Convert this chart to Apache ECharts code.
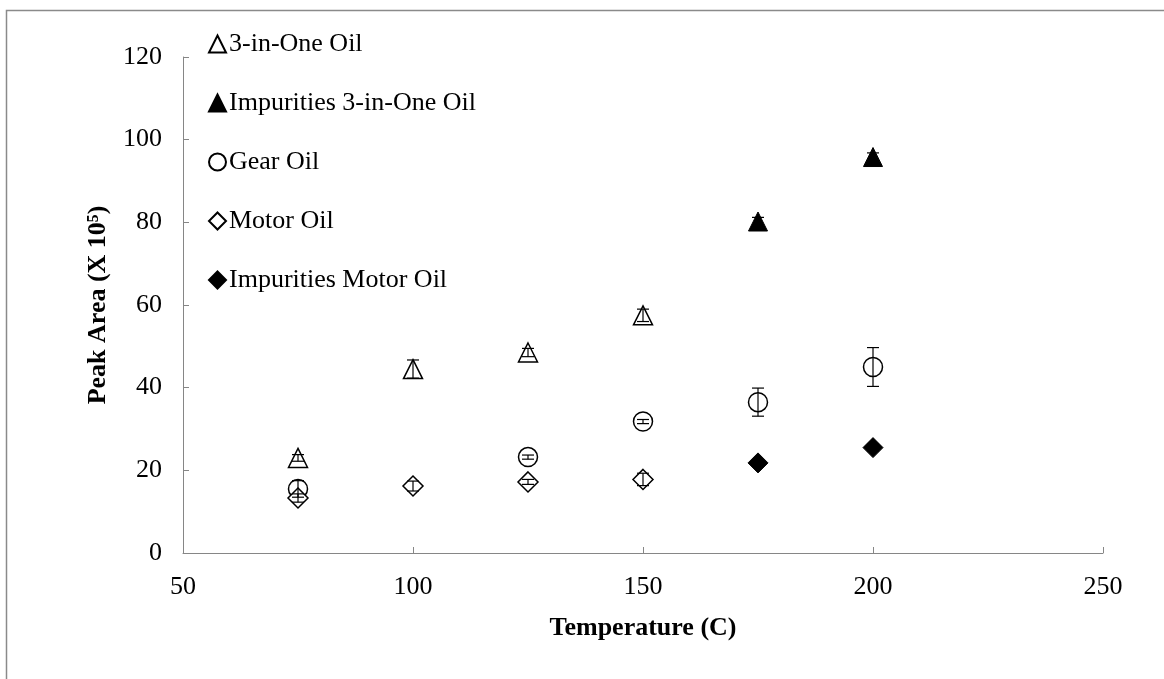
<!DOCTYPE html>
<html>
<head>
<meta charset="utf-8">
<script src="https://cdn.jsdelivr.net/npm/echarts@6/dist/echarts.min.js"></script>
<style>
html,body{margin:0;padding:0;background:#fff;}
#chart{width:1164px;height:679px;}
</style>
</head>
<body>
<div id="chart"></div>
<script>
// ---- data ----
const seriesNames = ['3-in-One Oil', 'Impurities 3-in-One Oil', 'Gear Oil', 'Motor Oil', 'Impurities Motor Oil'];
const oilX = [75, 100, 125, 150];
const oilY = [23, 44.5, 48.5, 57.5];
const oilErr = [0.8, 2.2, 1.0, 1.5];
const impOilX = [175, 200];
const impOilY = [80.2, 95.8];
const impOilErr = [1.0, 1.0];
const gearX = [75, 125, 150, 175, 200];
const gearY = [15.5, 23.2, 31.8, 36.5, 45.0];
const gearErr = [2.0, 0.5, 0.5, 3.4, 4.7];
const motorX = [75, 100, 125, 150];
const motorY = [13.3, 16.2, 17.2, 17.8];
const motorErr = [1.0, 1.2, 0.6, 1.5];
const impMotorX = [175, 200];
const impMotorY = [21.8, 25.5];
const impMotorErr = [0.5, 0.8];
const xTicks = [50, 100, 150, 200, 250];
const yTicks = [0, 20, 40, 60, 80, 100, 120];

const FONT = '"Liberation Serif", "Times New Roman", serif';
const AXIS_COLOR = '#868686';

function pts(xs, ys, es) { return xs.map((x, i) => [x, ys[i], es[i]]); }

const groups = [
  { name: seriesNames[0], data: pts(oilX, oilY, oilErr), symbol: 'triangle', filled: false, size: 19 },
  { name: seriesNames[1], data: pts(impOilX, impOilY, impOilErr), symbol: 'triangle', filled: true, size: 19 },
  { name: seriesNames[2], data: pts(gearX, gearY, gearErr), symbol: 'circle', filled: false, size: 19 },
  { name: seriesNames[3], data: pts(motorX, motorY, motorErr), symbol: 'diamond', filled: false, size: 20 },
  { name: seriesNames[4], data: pts(impMotorX, impMotorY, impMotorErr), symbol: 'diamond', filled: true, size: 20 }
];

const series = [];
groups.forEach(g => {
  series.push({
    name: g.name,
    type: 'scatter',
    symbol: g.symbol,
    symbolSize: g.size,
    data: g.data.map(d => [d[0], d[1]]),
    itemStyle: g.filled ? { color: '#000', borderColor: '#000', borderWidth: 1, opacity: 1 } :
                          { color: '#fff', borderColor: '#000', borderWidth: 1.5, opacity: 1 },
    emphasis: { disabled: true },
    z: 2
  });
});
groups.forEach(g => {
  series.push({
    name: g.name + ' err',
    type: 'custom',
    data: g.data,
    z: 3,
    silent: true,
    renderItem: function (params, api) {
      const x = api.value(0), y = api.value(1), e = api.value(2);
      const hi = api.coord([x, y + e]);
      const lo = api.coord([x, y - e]);
      const cw = 6;
      const style = { stroke: '#000', lineWidth: 1.2 };
      return {
        type: 'group',
        children: [
          { type: 'line', shape: { x1: hi[0], y1: hi[1], x2: lo[0], y2: lo[1] }, style: style },
          { type: 'line', shape: { x1: hi[0] - cw, y1: hi[1], x2: hi[0] + cw, y2: hi[1] }, style: style },
          { type: 'line', shape: { x1: lo[0] - cw, y1: lo[1], x2: lo[0] + cw, y2: lo[1] }, style: style }
        ]
      };
    }
  });
});

const chart = echarts.init(document.getElementById('chart'), null, { renderer: 'canvas' });
chart.setOption({
  backgroundColor: '#fff',
  animation: false,
  graphic: [{
    type: 'rect',
    shape: { x: 6.5, y: 10.5, width: 1200, height: 700 },
    style: { fill: 'none', stroke: '#8a8a8a', lineWidth: 1.5 },
    silent: true, z: -1
  }],
  grid: { left: 183, right: 61, top: 57, bottom: 126 },
  legend: {
    data: seriesNames,
    orient: 'vertical',
    left: 203,
    top: 26,
    itemWidth: 17,
    itemHeight: 17,
    itemGap: 33,
    textStyle: { fontFamily: FONT, fontSize: 26, color: '#000', lineHeight: 26, padding: [0, 0, 0, -2] },
    selectedMode: false
  },
  xAxis: {
    type: 'value',
    min: 50, max: 250, interval: 50,
    name: 'Temperature (C)',
    nameLocation: 'middle',
    nameGap: 62,
    nameTextStyle: { fontFamily: FONT, fontSize: 26, fontWeight: 'bold', color: '#000' },
    axisLine: { show: true, lineStyle: { color: AXIS_COLOR, width: 1 } },
    axisTick: { show: true, inside: true, length: 6, lineStyle: { color: AXIS_COLOR } },
    axisLabel: { fontFamily: FONT, fontSize: 26, color: '#000', margin: 21,
      formatter: v => xTicks.includes(v) ? String(v) : '' },
    splitLine: { show: false }
  },
  yAxis: {
    type: 'value',
    min: 0, max: 120, interval: 20,
    name: 'Peak Area (X 10\u2075)',
    nameLocation: 'middle',
    nameGap: 72,
    nameRotate: 90,
    nameTextStyle: { fontFamily: FONT, fontSize: 26, fontWeight: 'bold', color: '#000' },
    axisLine: { show: true, lineStyle: { color: AXIS_COLOR, width: 1 } },
    axisTick: { show: true, inside: true, length: 6, lineStyle: { color: AXIS_COLOR } },
    axisLabel: { fontFamily: FONT, fontSize: 26, color: '#000', margin: 21,
      formatter: v => yTicks.includes(v) ? String(v) : '' },
    splitLine: { show: false }
  },
  series: series
});
</script>
</body>
</html>
